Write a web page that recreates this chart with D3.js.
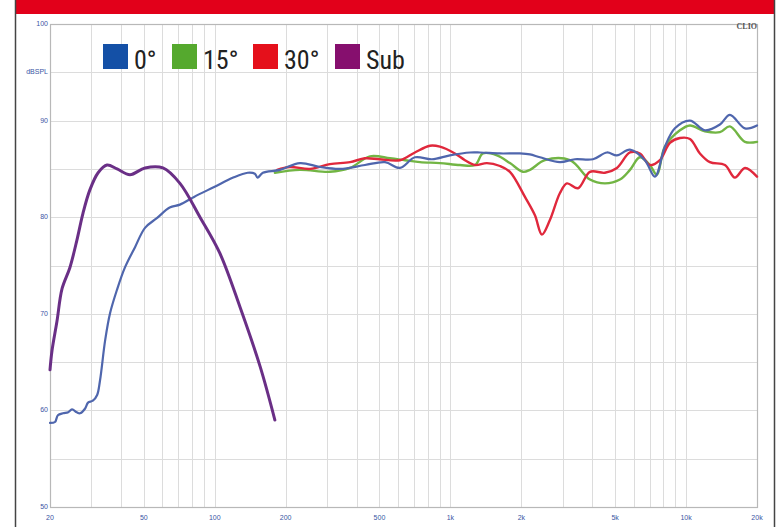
<!DOCTYPE html>
<html>
<head>
<meta charset="utf-8">
<script src="https://cdn.jsdelivr.net/npm/d3@7"></script>
<style>
    body { margin: 0; background: #fff; }
    svg { display: block; }
    .grid line { stroke: #dcdcdc; stroke-width: 1; }
    .tick-label { fill: #3a55a4; font-family: "Liberation Sans", Arial, sans-serif; font-size: 7px; }
    .legend-text { fill: #222; font-family: "Liberation Sans Narrow", "Roboto Condensed", Roboto, sans-serif; font-size: 26px; }
</style>
</head>
<body>
<div id="main"></div>
<script>
const ctx = {
    W: 782,
    H: 527,
    left: 50,
    right: 757,
    top: 24,
    bottom: 507,
};

// legend
const seriesNames = ["0°", "15°", "30°", "Sub"];
const legendColors = ["#1450a6", "#55a92e", "#e5101b", "#860f6e"];

// axes
const xTickValues = [20, 50, 100, 200, 500, 1000, 2000, 5000, 10000, 20000];
const xTickLabels = ["20", "50", "100", "200", "500", "1k", "2k", "5k", "10k", "20k"];
const yTickValues = [100, 95, 90, 80, 70, 60, 50];
const yTickLabels = ["100", "dBSPL", "90", "80", "70", "60", "50"];

// 0 degrees (blue)
const onAxisFreq = [20, 21, 21.6, 22.7, 23.9, 24.8, 26, 26.8, 28.2, 29, 30.4, 31.7, 32.6, 34.3, 36, 38.5, 41.6, 45.9, 50.6, 56.8, 64.4, 71.2, 81.7, 98.9, 119.8, 138, 148, 152, 160, 189, 230, 280, 340, 434, 528, 611, 707, 835, 995, 1211, 1335, 1623, 1973, 2176, 2399, 2917, 3377, 4027, 4616, 5088, 5779, 6689, 7374, 8133, 8967, 10386, 12020, 13920, 15349, 17777, 20000];
const onAxisDb = [58.7, 58.8, 59.5, 59.7, 59.8, 60.1, 59.8, 59.7, 60.2, 60.8, 61, 61.6, 63.1, 67.3, 70.1, 72.5, 74.8, 76.9, 78.9, 79.9, 81, 81.3, 82.1, 83.1, 84.1, 84.6, 84.5, 84.1, 84.6, 84.9, 85.6, 85.2, 85, 85.4, 85.7, 85.1, 86.2, 86, 86.4, 86.7, 86.7, 86.6, 86.6, 86.5, 86.2, 85.7, 86, 86, 86.7, 86.4, 87, 85.9, 84.2, 87.3, 89.2, 90, 89, 89.6, 90.6, 89.2, 89.5];

// 15 degrees (green)
const off15Freq = [180, 230, 308, 375, 456, 554, 642, 743, 903, 1098, 1272, 1375, 1576, 1789, 2031, 2176, 2518, 3216, 3911, 4526, 5240, 5779, 6370, 7022, 7520, 8133, 9418, 10386, 12020, 13920, 15349, 17777, 20000];
const off15Db = [84.6, 84.9, 84.7, 85.1, 86.3, 86.1, 85.9, 85.7, 85.6, 85.4, 85.4, 86.6, 86.4, 85.6, 84.7, 84.9, 85.9, 85.9, 83.9, 83.5, 83.9, 84.9, 86.2, 85.4, 84.4, 87.3, 89, 89.5, 88.9, 88.8, 89.4, 87.8, 87.8];

// 30 degrees (red)
const off30Freq = [184, 208, 254, 308, 375, 434, 500, 611, 707, 819, 903, 1045, 1153, 1272, 1429, 1623, 1789, 2072, 2284, 2446, 2644, 2917, 3123, 3477, 3911, 4526, 5088, 5779, 6370, 7022, 7743, 8541, 9418, 10386, 11447, 12623, 14617, 16117, 17777, 20000];
const off30Db = [84.9, 85.2, 85, 85.5, 85.7, 86.1, 86, 85.9, 86.7, 87.4, 87.3, 86.6, 85.9, 85.4, 85.6, 85.3, 84.7, 82.1, 80.2, 78.2, 79.7, 82.5, 83.5, 83, 84.7, 84.6, 85.1, 86.7, 86.6, 85.4, 85.9, 87.7, 88.2, 88.1, 86.6, 85.7, 85.4, 84.1, 85.1, 84.2];

// subwoofer (purple)
const subFreq = [20, 20.4, 21.4, 22.5, 24.3, 26, 27.6, 29.5, 32, 34.9, 38.5, 43.7, 50.6, 60.3, 71.2, 86.6, 105, 128, 156, 180];
const subDb = [64.2, 66.2, 69.2, 72.6, 74.8, 77.6, 80.4, 82.8, 84.6, 85.4, 85, 84.4, 85.1, 85.1, 83.5, 80, 76.3, 70.7, 64.5, 59];

function drawChart(svgEl) {
    let x = d3.scaleLog().domain([20, 20000]).range([ctx.left, ctx.right]);
    let y = d3.scaleLinear().domain([50, 100]).range([ctx.bottom, ctx.top]);

    // outer frame and red header
    svgEl.append("rect").attr("x", 15).attr("y", 0).attr("width", 760).attr("height", 14).attr("fill", "#e2001a");
    svgEl.append("line").attr("x1", 15.5).attr("x2", 15.5).attr("y1", 0).attr("y2", ctx.H).attr("stroke", "#444").attr("stroke-width", 1.5);
    svgEl.append("line").attr("x1", 774.5).attr("x2", 774.5).attr("y1", 0).attr("y2", ctx.H).attr("stroke", "#444").attr("stroke-width", 1.5);

    // grid
    let vTicks = x.ticks();
    let grid = svgEl.append("g").attr("class", "grid");
    grid.selectAll("line.v")
        .data(vTicks)
        .enter()
        .append("line")
        .attr("x1", d => Math.round(x(d)) + 0.5)
        .attr("x2", d => Math.round(x(d)) + 0.5)
        .attr("y1", ctx.top)
        .attr("y2", ctx.bottom);
    grid.selectAll("line.h")
        .data(d3.range(50, 101, 5))
        .enter()
        .append("line")
        .attr("x1", ctx.left)
        .attr("x2", ctx.right)
        .attr("y1", d => Math.round(y(d)) + 0.5)
        .attr("y2", d => Math.round(y(d)) + 0.5);

    // plot border
    svgEl.append("rect")
        .attr("x", ctx.left + 0.5).attr("y", ctx.top + 0.5)
        .attr("width", ctx.right - ctx.left).attr("height", ctx.bottom - ctx.top)
        .attr("fill", "none").attr("stroke", "#b8b8b8").attr("stroke-width", 1.2);

    // tick labels
    svgEl.append("g").selectAll("text")
        .data(xTickValues)
        .enter()
        .append("text")
        .attr("class", "tick-label")
        .attr("x", d => x(d))
        .attr("y", ctx.bottom + 13)
        .attr("text-anchor", "middle")
        .text((d, i) => xTickLabels[i]);
    svgEl.append("g").selectAll("text")
        .data(yTickValues)
        .enter()
        .append("text")
        .attr("class", "tick-label")
        .attr("x", ctx.left - 2)
        .attr("y", d => y(d) + 2)
        .attr("text-anchor", "end")
        .text((d, i) => yTickLabels[i]);

    svgEl.append("text")
        .attr("x", ctx.right).attr("y", ctx.top + 5)
        .attr("text-anchor", "end")
        .attr("font-family", "'Liberation Serif', serif")
        .attr("font-weight", "bold")
        .attr("font-size", 8)
        .attr("fill", "#555")
        .text("CLIO");

    // curves
    let line = d3.line()
        .x(d => x(d[0]))
        .y(d => y(d[1]))
        .curve(d3.curveCatmullRom.alpha(0.5));

    let curves = [
        { f: off15Freq, db: off15Db, color: "#72b544", w: 2.4 },
        { f: off30Freq, db: off30Db, color: "#e0283c", w: 2.4 },
        { f: onAxisFreq, db: onAxisDb, color: "#4f66ad", w: 2.2 },
        { f: subFreq, db: subDb, color: "#6a2f86", w: 3 },
    ];
    svgEl.append("g")
        .selectAll("path")
        .data(curves)
        .enter()
        .append("path")
        .attr("fill", "none")
        .attr("stroke", d => d.color)
        .attr("stroke-width", d => d.w)
        .attr("stroke-linejoin", "round")
        .attr("stroke-linecap", "round")
        .attr("d", d => line(d.f.map((v, i) => [v, d.db[i]])));

    // legend
    let legendX = [103, 172, 253, 335];
    let lg = svgEl.append("g").selectAll("g")
        .data(seriesNames)
        .enter()
        .append("g")
        .attr("transform", (d, i) => "translate(" + legendX[i] + ",44)");
    lg.append("rect")
        .attr("width", 25).attr("height", 25)
        .attr("fill", (d, i) => legendColors[i]);
    lg.append("text")
        .attr("class", "legend-text")
        .attr("x", 31).attr("y", 25)
        .text(d => d);
}

function createViz() {
    let svgEl = d3.select("#main").append("svg");
    svgEl.attr("width", ctx.W);
    svgEl.attr("height", ctx.H);
    drawChart(svgEl);
}

createViz();
</script>
</body>
</html>
